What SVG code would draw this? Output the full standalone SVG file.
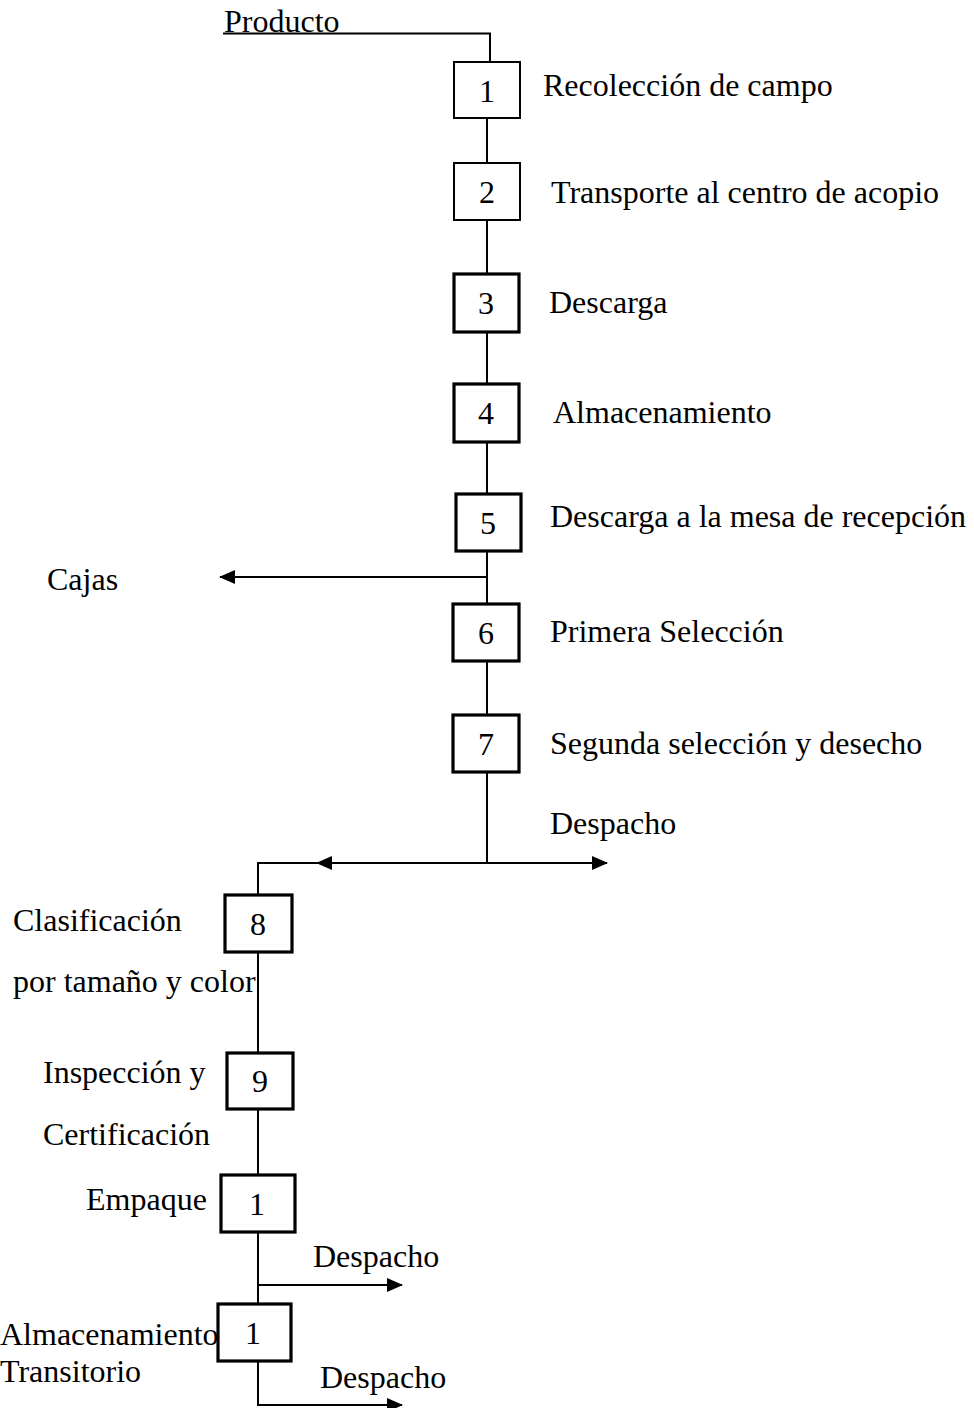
<svg xmlns="http://www.w3.org/2000/svg" width="974" height="1408" viewBox="0 0 974 1408">
<style>
text{font-family:"Liberation Serif","Times New Roman",serif;font-size:32px;fill:#000}
.n{text-anchor:middle}
.b{fill:#fff;stroke:#000;stroke-width:2}
.bt{fill:#fff;stroke:#000;stroke-width:3.2}
.c{fill:none;stroke:#000;stroke-width:2}
</style>
<defs>
<marker id="ah" markerWidth="16" markerHeight="14" refX="15" refY="7" orient="auto" markerUnits="userSpaceOnUse">
<path d="M0,0 L16,7 L0,14 Z" fill="#000"/>
</marker>
</defs>
<g id="connectors">
<path class="c" d="M223,33.5 H490 V61"/>
<path class="c" d="M487,118 V163"/>
<path class="c" d="M487,220 V273"/>
<path class="c" d="M487,333 V383"/>
<path class="c" d="M487,443 V493"/>
<path class="c" d="M487,552 V603"/>
<path class="c" marker-end="url(#ah)" d="M487,577 H220"/>
<path class="c" d="M487,662 V714"/>
<path class="c" d="M487,773 V863"/>
<path class="c" marker-end="url(#ah)" d="M487,863 H607"/>
<path class="c" marker-end="url(#ah)" d="M487,863 H317"/>
<path class="c" d="M317,863 H258 V894"/>
<path class="c" d="M258,953 V1052"/>
<path class="c" d="M258,1110 V1174"/>
<path class="c" d="M258,1233 V1303"/>
<path class="c" marker-end="url(#ah)" d="M258,1285 H402"/>
<path class="c" marker-end="url(#ah)" d="M258,1362 V1405 H402"/>
</g>
<g id="producto"><text x="224" y="32">Producto</text></g>
<g id="n1"><rect class="b" x="454" y="62" width="66" height="56"/><text class="n" x="487" y="102">1</text><text x="543" y="96">Recolección de campo</text></g>
<g id="n2"><rect class="b" x="454" y="163" width="66" height="57"/><text class="n" x="487" y="203">2</text><text x="551" y="203">Transporte al centro de acopio</text></g>
<g id="n3"><rect class="bt" x="454" y="274" width="65" height="58"/><text class="n" x="486" y="314">3</text><text x="549" y="313">Descarga</text></g>
<g id="n4"><rect class="bt" x="454" y="384" width="65" height="58"/><text class="n" x="486" y="424">4</text><text x="553" y="423">Almacenamiento</text></g>
<g id="n5"><rect class="bt" x="456" y="494" width="65" height="57"/><text class="n" x="488" y="534">5</text><text x="550" y="527">Descarga a la mesa de recepción</text></g>
<g id="cajas"><text x="47" y="590">Cajas</text></g>
<g id="n6"><rect class="bt" x="453" y="604" width="66" height="57"/><text class="n" x="486" y="644">6</text><text x="550" y="642">Primera Selección</text></g>
<g id="n7"><rect class="bt" x="453" y="715" width="66" height="57"/><text class="n" x="486" y="755">7</text><text x="550" y="754">Segunda selección y desecho</text></g>
<g id="despacho1"><text x="550" y="834">Despacho</text></g>
<g id="n8"><rect class="bt" x="225" y="895" width="67" height="57"/><text class="n" x="258" y="935">8</text><text x="13" y="931">Clasificación</text><text x="13" y="992">por tamaño y color</text></g>
<g id="n9"><rect class="bt" x="227" y="1053" width="66" height="56"/><text class="n" x="260" y="1092">9</text><text x="43" y="1083">Inspección y</text><text x="43" y="1145">Certificación</text></g>
<g id="n10"><rect class="bt" x="221" y="1175" width="74" height="57"/><text class="n" x="257" y="1215">1</text><text x="86" y="1210">Empaque</text></g>
<g id="despacho2"><text x="313" y="1267">Despacho</text></g>
<g id="n11"><rect class="bt" x="218" y="1304" width="73" height="57"/><text class="n" x="253" y="1344">1</text><text x="0" y="1345">Almacenamiento</text><text x="0" y="1382">Transitorio</text></g>
<g id="despacho3"><text x="320" y="1388">Despacho</text></g>
</svg>
